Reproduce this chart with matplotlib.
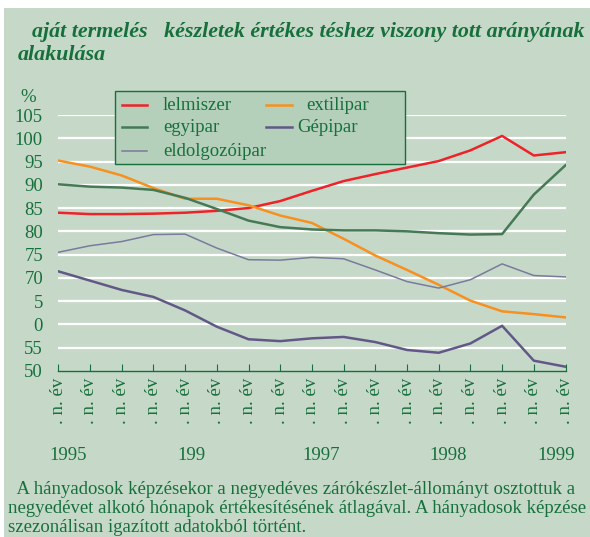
import matplotlib
matplotlib.use("Agg")
import matplotlib.pyplot as plt
from matplotlib.patches import Rectangle
from matplotlib.lines import Line2D

# ---- data ----
quarters = [". n. év"] * 17
years = ["1995", "199", "1997", "1998", "1999"]
year_pos = [0.3, 4.2, 8.3, 12.3, 15.7]
ytick_vals = [50, 55, 60, 65, 70, 75, 80, 85, 90, 95, 100, 105]
ytick_labels = ["50", "55", "0", "5", "70", "75", "80", "85", "90", "95", "100", "105"]

lelmiszer = [84.0, 83.7, 83.7, 83.8, 84.0, 84.4, 85.0, 86.5, 88.7, 90.8, 92.3, 93.7, 95.1, 97.4, 100.5, 96.3, 97.0]
textilipar = [95.2, 93.9, 92.0, 89.3, 87.0, 87.0, 85.6, 83.4, 81.8, 78.4, 74.8, 71.7, 68.5, 65.1, 62.8, 62.2, 61.5]
egyipar = [90.1, 89.6, 89.4, 88.9, 87.2, 84.8, 82.3, 80.9, 80.4, 80.2, 80.2, 80.0, 79.6, 79.3, 79.4, 87.9, 94.2]
feldolg = [75.5, 76.9, 77.8, 79.3, 79.4, 76.4, 73.9, 73.8, 74.4, 74.1, 71.7, 69.2, 67.8, 69.6, 73.0, 70.5, 70.2]
gepipar = [71.4, 69.4, 67.4, 65.9, 63.0, 59.5, 56.8, 56.4, 57.0, 57.3, 56.2, 54.5, 53.9, 55.9, 59.7, 52.2, 50.9]

BG = "#c6d9c9"
GREEN = "#17703c"
W, H = 590, 537
FS = 13.5
serif = "Liberation Serif"

fig = plt.figure(figsize=(W / 100, H / 100), dpi=100)
fig.patch.set_facecolor("white")
fig.patches.append(Rectangle((4 / W, 0), 1 - 4 / W, 1 - 8 / H, transform=fig.transFigure,
                             facecolor=BG, edgecolor="none", zorder=-10))

x0, x1 = 58.3, 565.5
ytop, ybot = 115.0, 370.9
ax = fig.add_axes([x0 / W, 1 - ybot / H, (x1 - x0) / W, (ybot - ytop) / H])
ax.set_facecolor("none")
xs = list(range(len(quarters)))
ax.set_xlim(0, 16)
ax.set_ylim(50, 105)

for v in ytick_vals[1:]:
    ax.axhline(v, color="white", lw=1.6, zorder=1)

l1, = ax.plot(xs, lelmiszer, color="#ee2229", lw=1.8, zorder=3, label="lelmiszer")
l2, = ax.plot(xs, textilipar, color="#f7901e", lw=1.8, zorder=3, label="extilipar")
l3, = ax.plot(xs, egyipar, color="#457a55", lw=1.8, zorder=3, label="egyipar")
l4, = ax.plot(xs, gepipar, color="#625887", lw=1.8, zorder=3, label="Gépipar")
l5, = ax.plot(xs, feldolg, color="#7a7a9c", lw=1.1, zorder=3, label="eldolgozóipar")

for s in ["top", "right", "left"]:
    ax.spines[s].set_visible(False)
ax.spines["bottom"].set_color(GREEN)
ax.spines["bottom"].set_linewidth(1.0)
ax.set_xticks(xs)
ax.set_xticklabels(quarters, rotation=90, fontfamily=serif, fontsize=13.5, color=GREEN)
ax.tick_params(axis="x", direction="in", length=5, color=GREEN, pad=5)
ax.set_yticks(ytick_vals)
ax.set_yticklabels(ytick_labels, fontfamily=serif, fontsize=FS, color=GREEN)
ax.tick_params(axis="y", length=0, pad=11)

for yr, p in zip(years, year_pos):
    ax.text(p, -0.33, yr, transform=ax.get_xaxis_transform(), ha="center", va="center",
            fontfamily=serif, fontsize=FS, color=GREEN)

fig.text(20 / W, 1 - 97 / H, "%", fontfamily=serif, fontsize=FS, color=GREEN, ha="left", va="center")

# legend (frame + entries placed in figure pixels)
def fx(px):
    return px / W

def fy(py):
    return 1 - py / H

fig.patches.append(Rectangle((fx(115), fy(164)), (405 - 115) / W, (164 - 91) / H,
                             transform=fig.transFigure, facecolor="#b4cfba",
                             edgecolor=GREEN, lw=1.0, zorder=5))
entries = [(l1, 122, 147, 163, 105), (l3, 122, 147, 163, 127), (l5, 122, 147, 163, 151),
           (l2, 266, 292, 306, 105), (l4, 266, 292, 297, 127)]
for h, hx0, hx1, tx, ty in entries:
    fig.add_artist(Line2D([fx(hx0), fx(hx1)], [fy(ty), fy(ty)], transform=fig.transFigure,
                          color=h.get_color(), lw=h.get_linewidth(), zorder=6))
    fig.text(fx(tx), fy(ty), h.get_label(), fontfamily=serif, fontsize=FS, color=GREEN,
             ha="left", va="center", zorder=6)

fig.text(32 / W, 1 - 32 / H, "aját termelés   készletek értékes téshez viszony tott arányának",
         fontfamily=serif, fontsize=15.8, fontweight="bold", fontstyle="italic", color=GREEN,
         ha="left", va="center")
fig.text(18 / W, 1 - 55 / H, "alakulása",
         fontfamily=serif, fontsize=15.8, fontweight="bold", fontstyle="italic", color=GREEN,
         ha="left", va="center")

foot = ["  A hányadosok képzésekor a negyedéves zárókészlet-állományt osztottuk a",
        "negyedévet alkotó hónapok értékesítésének átlagával. A hányadosok képzése",
        "szezonálisan igazított adatokból történt."]
for i, line in enumerate(foot):
    fig.text(8 / W, 1 - (490 + i * 18.5) / H, line, fontfamily=serif, fontsize=FS,
             color=GREEN, ha="left", va="center")

fig.savefig("out.png", dpi=100, facecolor=fig.get_facecolor())
